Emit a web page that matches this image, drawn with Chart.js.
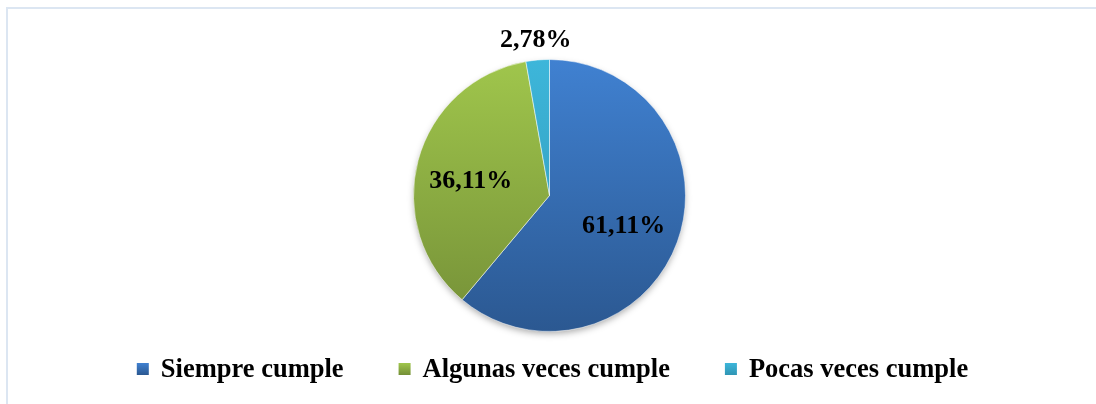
<!DOCTYPE html>
<html>
<head>
<meta charset="utf-8">
<script src="https://cdn.jsdelivr.net/npm/chart.js@4.4.1/dist/chart.umd.min.js"></script>
<style>
	html, body { margin: 0; padding: 0; background: #fff; }
	#wrap { position: relative; width: 1096px; height: 404px; overflow: hidden; }
	#frame {
		position: absolute; left: 6px; top: 7px; width: 1200px; height: 500px;
		border-top: 2px solid #dce6f2; border-left: 2px solid #dce6f2;
	}
	#chart { position: absolute; left: 0; top: 0; }
</style>
</head>
<body>
<div id="wrap">
	<div id="frame"></div>
	<canvas id="chart" width="1096" height="404"></canvas>
</div>
<script>
// data
let categories = ['Siempre cumple', 'Algunas veces cumple', 'Pocas veces cumple'];
let values = [61.11, 36.11, 2.78];
let valueLabels = ['61,11%', '36,11%', '2,78%'];

let topColors = ['#4081d1', '#a0c64c', '#3db6da'];
let bottomColors = ['#2b5891', '#748f37', '#2f95b4'];
let labelDist = [0.58, 0.6, 1.15];
let labelDy = [4, 7, 1];
let serif = '"Liberation Serif", "Times New Roman", serif';

function sliceFill(ctx) {
	let i = ctx.dataIndex;
	let area = ctx.chart.chartArea;
	if (!area) return topColors[i];
	let g = ctx.chart.ctx.createLinearGradient(0, area.top, 0, area.bottom);
	g.addColorStop(0, topColors[i]);
	g.addColorStop(1, bottomColors[i]);
	return g;
}

let pieShadow = {
	id: 'pieShadow',
	beforeDatasetsDraw: function (chart) {
		let arc = chart.getDatasetMeta(0).data[0];
		if (!arc) return;
		let c = chart.ctx;
		c.save();
		c.shadowColor = 'rgba(0,0,0,0.35)';
		c.shadowBlur = 7;
		c.shadowOffsetY = 3;
		c.fillStyle = '#ffffff';
		c.beginPath();
		c.arc(arc.x, arc.y, arc.outerRadius - 1, 0, Math.PI * 2);
		c.fill();
		c.restore();
	},
};

let sliceLabels = {
	id: 'sliceLabels',
	afterDatasetsDraw: function (chart) {
		let c = chart.ctx;
		c.save();
		c.font = 'bold 26px ' + serif;
		c.fillStyle = '#000';
		c.textAlign = 'center';
		c.textBaseline = 'middle';
		chart.getDatasetMeta(0).data.forEach(function (arc, i) {
			let mid = (arc.startAngle + arc.endAngle) / 2;
			let r = arc.outerRadius * labelDist[i];
			c.fillText(valueLabels[i], arc.x + Math.cos(mid) * r, arc.y + Math.sin(mid) * r + labelDy[i]);
		});
		c.restore();
	},
};

// legend drawn by hand so the row spacing can differ from the gap above it
let bottomLegend = {
	id: 'bottomLegend',
	afterDraw: function (chart) {
		let c = chart.ctx;
		let box = 12, gap = 12, spacing = 55;
		let y = chart.chartArea.bottom + 37;
		c.save();
		c.font = 'bold 26.5px ' + serif;
		c.textBaseline = 'middle';
		let widths = categories.map((t) => c.measureText(t).width);
		let total = widths.reduce((a, w) => a + box + gap + w, 0) + spacing * (categories.length - 1);
		let x = (chart.chartArea.left + chart.chartArea.right) / 2 + 3 - total / 2;
		categories.forEach(function (name, i) {
			let g = c.createLinearGradient(0, y - box / 2, 0, y + box / 2);
			g.addColorStop(0, topColors[i]);
			g.addColorStop(1, bottomColors[i]);
			c.fillStyle = g;
			c.fillRect(x, y - box / 2, box, box);
			c.fillStyle = '#000';
			c.fillText(name, x + box + gap, y + 1);
			x += box + gap + widths[i] + spacing;
		});
		c.restore();
	},
};

new Chart(document.getElementById('chart'), {
	type: 'pie',
	data: {
		labels: categories,
		datasets: [
			{
				data: values,
				backgroundColor: sliceFill,
				borderColor: 'rgba(255,255,255,0.5)',
				borderWidth: 1,
			},
		],
	},
	options: {
		responsive: false,
		animation: false,
		layout: {
			padding: { top: 59, bottom: 72, left: 3, right: 0 },
		},
		plugins: {
			tooltip: { enabled: false },
			legend: { display: false },
		},
	},
	plugins: [pieShadow, sliceLabels, bottomLegend],
});
</script>
</body>
</html>
